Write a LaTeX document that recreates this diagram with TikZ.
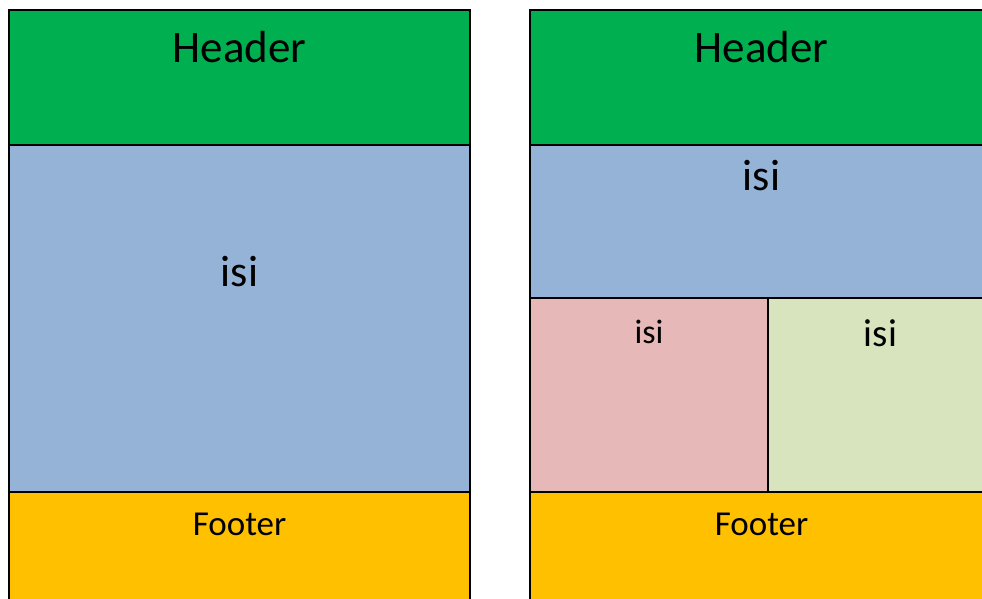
\documentclass[tikz,border=0pt]{standalone}
\usepackage{fontspec}
\setmainfont{Carlito}
\usetikzlibrary{positioning}

\definecolor{hdrgreen}{HTML}{00B050}
\definecolor{isiblue}{HTML}{95B3D7}
\definecolor{ftryellow}{HTML}{FFC000}
\definecolor{isipink}{HTML}{E6B9B8}
\definecolor{isilime}{HTML}{D7E4BD}

\tikzset{
  panel/.style={draw=black, line width=1.5pt},
  lbl/.style={anchor=base, inner sep=0pt},
}

\begin{document}
\begin{tikzpicture}[x=1pt, y=-1pt]
  \useasboundingbox (0,0) rectangle (982,598);
  \clip (0,0) rectangle (982,598);

  % left layout
  \draw[panel, fill=hdrgreen] (9,10) rectangle (470,145);
  \draw[panel, fill=isiblue] (9,145) rectangle (470,492);
  \draw[panel, fill=ftryellow] (9,492) rectangle (470,620);
  \node[lbl, font=\fontsize{45}{50}\selectfont] (lheader) at (239.5,62) {Header};
  \node[lbl, font=\fontsize{44}{48}\selectfont] (lisi) at (239.5,286) {isi};
  \node[lbl, font=\fontsize{35}{40}\selectfont] (lfooter) at (239.5,535) {Footer};

  % right layout
  \draw[panel, fill=hdrgreen] (530,10) rectangle (991,145);
  \draw[panel, fill=isiblue] (530,145) rectangle (991,298);
  \draw[panel, fill=isipink] (530,298) rectangle (768,492);
  \draw[panel, fill=isilime] (768,298) rectangle (991,492);
  \draw[panel, fill=ftryellow] (530,492) rectangle (991,620);
  \node[lbl, font=\fontsize{45}{50}\selectfont] (rheader) at (761.5,62) {Header};
  \node[lbl, font=\fontsize{44}{48}\selectfont] (risi) at (761.5,190) {isi};
  \node[lbl, font=\fontsize{34}{38}\selectfont] (pinkisi) at (649,343) {isi};
  \node[lbl, font=\fontsize{39}{44}\selectfont] (limeisi) at (880.5,346) {isi};
  \node[lbl, font=\fontsize{35}{40}\selectfont] (rfooter) at (761.5,535) {Footer};
\end{tikzpicture}
\end{document}
